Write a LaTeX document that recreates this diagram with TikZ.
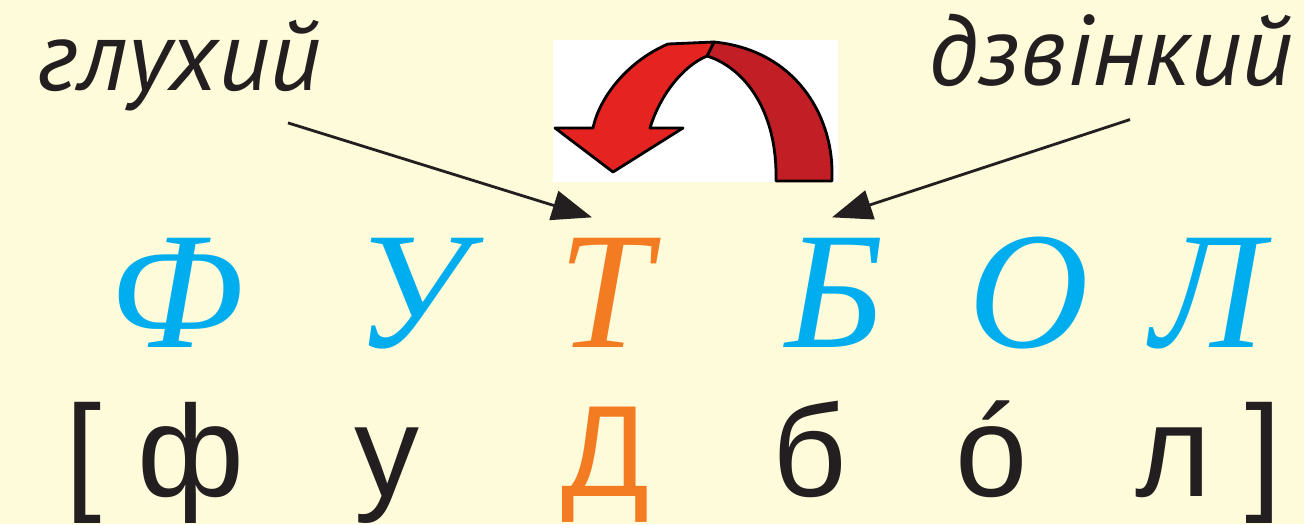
\documentclass[tikz,border=0pt]{standalone}
\usepackage{fontspec}
\usetikzlibrary{arrows.meta}
\setmainfont{Liberation Serif}
\newfontfamily\tagfont{PT Sans}
\newfontfamily\soundfont{Liberation Sans}
\definecolor{paper}{HTML}{FEFBDA}
\definecolor{letterblue}{HTML}{00AEEF}
\definecolor{letterorange}{HTML}{F37B21}
\definecolor{inkblack}{HTML}{231F20}
\definecolor{arrowred}{HTML}{E52421}
\definecolor{arrowdark}{HTML}{C21E25}

\begin{document}
\begin{tikzpicture}[x=0.02cm, y=-0.02cm,
    every node/.style={inner sep=0pt, anchor=base},
    letter/.style={text=letterblue, font=\fontsize{95}{95}\selectfont\itshape},
    sound/.style={text=inkblack, font=\soundfont\fontsize{74}{74}\selectfont},
    tag/.style={text=inkblack, font=\tagfont\itshape\fontsize{57}{57}\selectfont},
    pointer/.style={-{Triangle[length=0.8cm, width=0.6cm]}, line width=1.6pt, inkblack},
    turnpart/.style={draw=black, line width=1.6pt, line join=round}]
    % background
    \fill[paper] (0,0) rectangle (1304,524);

    % labels
    \node[tag] (glukh) at (179,90) {глухий};
    \node[tag] (dzvin) at (1111,85) {дзвінкий};

    % written word
    \node[letter] (letF) at (177,347) {Ф};
    \node[letter] (letU) at (411,347) {У};
    \node[letter, text=letterorange] (letT) at (605,347) {Т};
    \node[letter] (letB) at (835,347) {Б};
    \node[letter] (letO) at (1029,347) {О};
    \node[letter] (letL) at (1208,347) {Л};

    % transcription
    \node[sound] (brL) at (84,496) {[};
    \node[sound] (sndF) at (191,496) {ф};
    \node[sound] (sndU) at (387,496) {у};
    \node[sound, text=letterorange] (sndD) at (606,496) {Д};
    \node[sound] (sndB) at (810,496) {б};
    \node[sound] (sndO) at (992,496) {ó};
    \node[sound] (sndL) at (1173,496) {л};
    \node[sound] (brR) at (1264,496) {]};

    % turn-over arrow
    \fill[white] (553,40) rectangle (838,182);
    \filldraw[turnpart, fill=arrowdark] (832,181) -- (832,172)
        .. controls (832,115) and (795,50) .. (714,42)
        -- (707,56) .. controls (745,68) and (775,110) .. (776,172) -- (776,181) -- cycle;
    \filldraw[turnpart, fill=arrowred] (714,42) -- (668,44)
        .. controls (630,60) and (600,95) .. (593,128)
        -- (555,128) -- (613,172) -- (683,128) -- (650,128)
        .. controls (660,95) and (683,66) .. (707,56) -- cycle;

    % pointers
    \draw[pointer] ([shift={(-33,12)}]glukh.south east) -- ([shift={(-13,-20)}]letT.north);
    \draw[pointer] ([shift={(19,33)}]dzvin.south) -- ([shift={(-3,-20)}]letB.north);
\end{tikzpicture}
\end{document}
